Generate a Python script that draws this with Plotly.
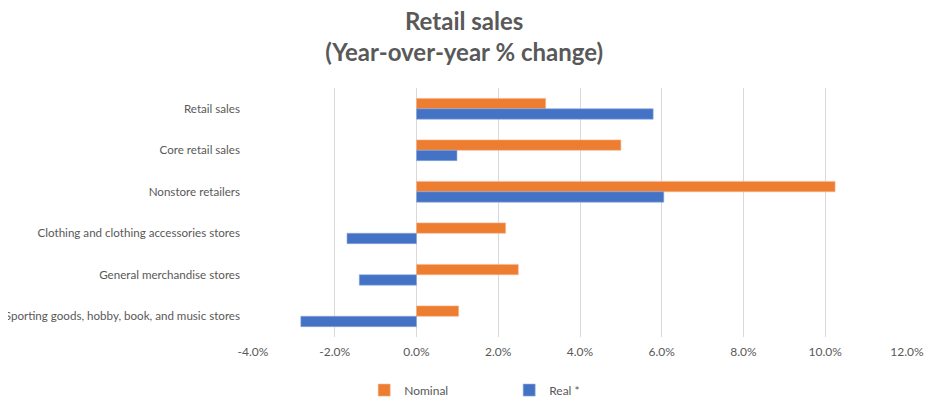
import plotly.graph_objects as go

categories = [
    'Retail sales',
    'Core retail sales',
    'Nonstore retailers',
    'Clothing and clothing accessories stores',
    'General merchandise stores',
    'Sporting goods, hobby, book, and music stores',
]
nominal = [3.16, 5.0, 10.24, 2.18, 2.49, 1.03]
real = [5.79, 0.99, 6.05, -1.70, -1.40, -2.83]
x_ticks = [-4, -2, 0, 2, 4, 6, 8, 10, 12]
x_tick_labels = [f'{v:.1f}%' for v in x_ticks]

grey = '#595959'

fig = go.Figure()
fig.add_trace(go.Bar(y=categories, x=nominal, orientation='h', name='Nominal',
                     marker=dict(color='#ED7D31', line=dict(color='#F5B48A', width=0.6))))
fig.add_trace(go.Bar(y=categories, x=real, orientation='h', name='Real *',
                     marker=dict(color='#4472C4', line=dict(color='#8FA9DC', width=0.6))))

# page body adds 8px, so the figure is 8px smaller than the window
fig.update_layout(
    width=931, height=398,
    margin=dict(l=245, r=32, t=80, b=69),
    paper_bgcolor='white', plot_bgcolor='white',
    barmode='group', bargap=0.5, bargroupgap=0,
    font=dict(family='Lato, Open Sans, sans-serif', color=grey, size=12),
    title=dict(text='<b>Retail sales<br>(Year-over-year % change)</b>',
               x=0.49, xanchor='center', yref='container', y=0.946, yanchor='middle',
               font=dict(size=24, color=grey)),
    legend=dict(orientation='h', x=0.17, xanchor='left',
                yref='container', y=0.04, yanchor='middle',
                entrywidth=100, itemwidth=30, font=dict(size=12, color=grey),
                traceorder='normal'),
    xaxis=dict(range=[-4, 12], tickvals=x_ticks, ticktext=x_tick_labels,
               showgrid=True, gridcolor='#d9d9d9', gridwidth=1,
               zeroline=False, showline=False, ticks='', ticklabelstandoff=6,
               automargin=False,
               tickfont=dict(size=12, color=grey), fixedrange=True),
    yaxis=dict(autorange='reversed', showgrid=False, zeroline=False,
               ticks='', ticklabelstandoff=12, automargin=False,
               tickfont=dict(size=11.6, color=grey)),
)

fig.write_html('out.html')
